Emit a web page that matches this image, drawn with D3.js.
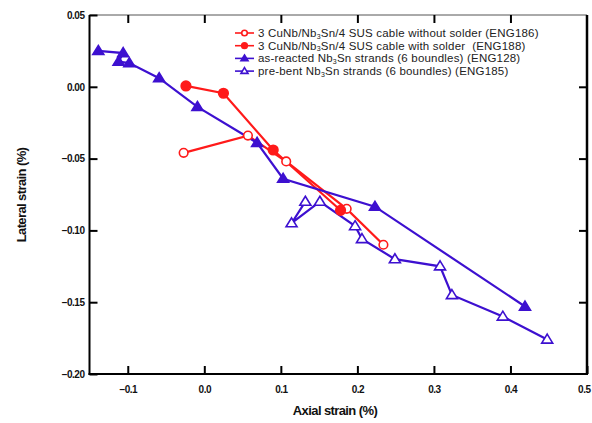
<!DOCTYPE html>
<html><head><meta charset="utf-8">
<script src="https://cdn.jsdelivr.net/npm/d3@7"></script>
<style>body{margin:0;background:#fff}svg{display:block}</style>
</head><body>
<svg id="c" width="592" height="423"></svg>
<script>
const xTicks = [-0.1, 0.0, 0.1, 0.2, 0.3, 0.4, 0.5];
const yTicks = [0.05, 0.00, -0.05, -0.10, -0.15, -0.20];
const seriesNames = [
  ["3 CuNb/Nb", "3", "Sn/4 SUS cable without solder (ENG186)"],
  ["3 CuNb/Nb", "3", "Sn/4 SUS cable with solder\u00a0 (ENG188)"],
  ["as-reacted Nb", "3", "Sn strands (6 boundles) (ENG128)"],
  ["pre-bent Nb", "3", "Sn strands (6 boundles) (ENG185)"]
];
const eng186 = [[-0.027,-0.046],[0.057,-0.034],[0.107,-0.052],[0.186,-0.085],[0.234,-0.110]];
const eng188 = [[-0.024,0.0006],[0.025,-0.0045],[0.090,-0.044],[0.178,-0.086]];
const eng128 = [[-0.1385,0.025],[-0.106,0.0235],[-0.112,0.0175],[-0.098,0.0165],[-0.059,0.006],[-0.009,-0.014],[0.069,-0.039],[0.103,-0.064],[0.223,-0.0835],[0.419,-0.153]];
const eng185 = [[0.132,-0.080],[0.114,-0.095],[0.151,-0.080],[0.197,-0.097],[0.206,-0.106],[0.249,-0.120],[0.308,-0.125],[0.3235,-0.145],[0.390,-0.160],[0.448,-0.176]];

const RED = "#ff1a1a", BLUE = "#3d10d0";
const styles = [
  {data: eng186, color: RED, shape: "circle", filled: false},
  {data: eng188, color: RED, shape: "circle", filled: true},
  {data: eng128, color: BLUE, shape: "tri", filled: true},
  {data: eng185, color: BLUE, shape: "tri", filled: false}
];

const svg = d3.select("#c");
const L = 89.5, R = 587, T = 15, B = 374;
const x = d3.scaleLinear().domain([-0.15, 0.5]).range([L, R]);
const y = d3.scaleLinear().domain([-0.20, 0.05]).range([B, T]);
const font = "Liberation Sans, Arial, sans-serif";

// frame
svg.append("line").attr("x1",L).attr("x2",R).attr("y1",T).attr("y2",T).attr("stroke","#555").attr("stroke-width",1);
svg.append("line").attr("x1",R).attr("x2",R).attr("y1",T).attr("y2",B).attr("stroke","#000").attr("stroke-width",2.5);
svg.append("line").attr("x1",L).attr("x2",L).attr("y1",T).attr("y2",B+1).attr("stroke","#000").attr("stroke-width",2);
svg.append("line").attr("x1",L-1).attr("x2",R+1).attr("y1",B).attr("y2",B).attr("stroke","#000").attr("stroke-width",2);

// axes with inward ticks
const gx = svg.append("g").attr("transform",`translate(0,${B})`)
  .call(d3.axisBottom(x).tickValues(xTicks).tickSizeInner(-8).tickSizeOuter(0).tickPadding(12).tickFormat(d3.format(".1f")));
const gxt = svg.append("g").attr("transform",`translate(0,${T})`)
  .call(d3.axisTop(x).tickValues(xTicks.filter(v=>v<0.5)).tickSizeInner(-8).tickSizeOuter(0).tickFormat(""));
const gy = svg.append("g").attr("transform",`translate(${L},0)`)
  .call(d3.axisLeft(y).tickValues(yTicks).tickSizeInner(-8).tickSizeOuter(0).tickPadding(5).tickFormat(d3.format(".2f")));
const gyr = svg.append("g").attr("transform",`translate(${R},0)`)
  .call(d3.axisRight(y).tickValues(yTicks.filter(v=>v>-0.2 && v<0.05)).tickSizeInner(-8).tickSizeOuter(0).tickFormat(""));
[gx,gxt,gy,gyr].forEach(g=>{
  g.select(".domain").remove();
  g.selectAll(".tick line").attr("stroke","#000").attr("stroke-width",2);
  g.selectAll("text").attr("font-family",font).attr("font-size",10).attr("font-weight","bold").attr("fill","#111").attr("letter-spacing","-0.5");
});
gy.selectAll(".tick").filter(d=>Math.abs(d)<1e-9).select("text").text("0.00");
// last x label sits at the right edge: keep it inside the page
gx.selectAll(".tick").filter(d=>d===0.5).select("text").attr("text-anchor","end").attr("x",3);

// axis titles
svg.append("text").attr("x",335).attr("y",415).attr("text-anchor","middle")
  .attr("font-family",font).attr("font-size",13).attr("font-weight","bold").attr("fill","#111").attr("letter-spacing","-0.6")
  .text("Axial strain (%)");
svg.append("text").attr("transform","translate(26,195) rotate(-90)").attr("text-anchor","middle")
  .attr("font-family",font).attr("font-size",13).attr("font-weight","bold").attr("fill","#111").attr("letter-spacing","-0.6")
  .text("Lateral strain (%)");

function marker(g, shape, filled, color, cx, cy, s) {
  if (shape === "circle") {
    g.append("circle").attr("cx",cx).attr("cy",cy).attr("r",s)
      .attr("fill", filled ? color : "#fff").attr("stroke",color).attr("stroke-width",1.6);
  } else {
    const h = s*1.8, w = s*1.1;
    g.append("path").attr("d",`M${cx},${cy-h*0.6}L${cx+w},${cy+h*0.4}L${cx-w},${cy+h*0.4}Z`)
      .attr("fill", filled ? color : "#fff").attr("stroke",color).attr("stroke-width",1.6).attr("stroke-linejoin","miter");
  }
}

const line = d3.line().x(d=>x(d[0])).y(d=>y(d[1]));
const plot = svg.append("g");
styles.forEach(s=>{
  plot.append("path").datum(s.data).attr("d",line).attr("fill","none")
    .attr("stroke",s.color).attr("stroke-width",2.2);
});
styles.forEach(s=>{
  s.data.forEach(d=>marker(plot, s.shape, s.filled, s.color, x(d[0]), y(d[1]), s.shape==="circle" ? (s.filled?4.8:4.3) : 5));
});

// legend
const lg = svg.append("g");
const rowY = [33, 45.7, 58.4, 71.1];
styles.forEach((s,i)=>{
  const yy = rowY[i];
  lg.append("line").attr("x1",235).attr("x2",254).attr("y1",yy).attr("y2",yy).attr("stroke",s.color).attr("stroke-width",1.6);
  marker(lg, s.shape, s.filled, s.color, 244.5, yy, s.shape==="circle"?2.8:3.2);
  const t = lg.append("text").attr("x",258).attr("y",yy+4).attr("font-family",font).attr("font-size",11.5).attr("fill","#222").attr("letter-spacing","0.2");
  t.append("tspan").text(seriesNames[i][0]);
  t.append("tspan").attr("font-size",7).attr("dy",1.5).text(seriesNames[i][1]);
  t.append("tspan").attr("dy",-1.5).text(seriesNames[i][2]);
});
</script>
</body></html>
